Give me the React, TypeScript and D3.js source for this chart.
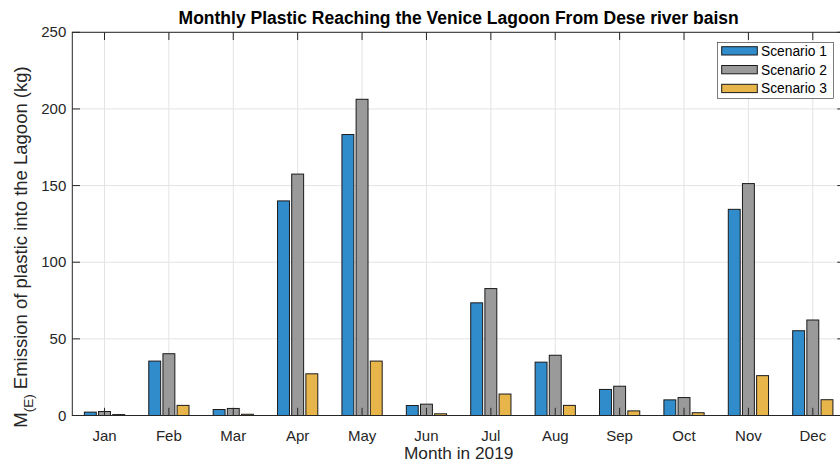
import React from "react";
import * as d3 from "d3";

const months = ["Jan", "Feb", "Mar", "Apr", "May", "Jun", "Jul", "Aug", "Sep", "Oct", "Nov", "Dec"];
const scenario1 = [2.2, 35.5, 3.9, 140, 183.3, 6.5, 73.5, 34.8, 17, 10.2, 134.5, 55.3];
const scenario2 = [2.6, 40.3, 4.6, 157.5, 206.3, 7.4, 82.8, 39.3, 19.1, 11.7, 151.3, 62.3];
const scenario3 = [0.6, 6.6, 0.8, 27.2, 35.5, 1.1, 14, 6.6, 3.0, 1.8, 26, 10.3];
const seriesNames = ["Scenario 1", "Scenario 2", "Scenario 3"];
const seriesColors = ["#318CCC", "#9A9A9A", "#E8B54A"];
const yTicks = [0, 50, 100, 150, 200, 250];

const W = 840;
const H = 463;
const FONT = "'Liberation Sans', Arial, Helvetica, sans-serif";
const AX = "#262626";

export default function App() {
  const series = [scenario1, scenario2, scenario3];
  const x = d3.scaleLinear().domain([0.5, 12.5]).range([72.3, 845]);
  const y = d3.scaleLinear().domain([0, 250]).range([415.5, 32.3]);
  const offsets = [-0.22, 0, 0.22];
  const bw = 0.185;
  const unit = x(1) - x(0);
  const tickLen = 7.7;
  const left = x.range()[0];
  const right = x.range()[1];
  const top = y.range()[1];
  const bottom = y.range()[0];

  return (
    <svg width={W} height={H} style={{ position: "absolute", left: 0, top: 0, background: "#fff" }} fontFamily={FONT}>
      <rect x={0} y={0} width={W} height={H} fill="#fff" />
      {/* grid */}
      <g stroke="#e3e3e3" strokeWidth={1}>
        {months.map((m, i) => (
          <line key={m} x1={x(i + 1)} x2={x(i + 1)} y1={top} y2={bottom} />
        ))}
        {yTicks.map((t) => (
          <line key={t} x1={left} x2={right} y1={y(t)} y2={y(t)} />
        ))}
      </g>
      {/* bars */}
      {series.map((vals, s) => (
        <g key={s}>
          {vals.map((v, i) => (
            <rect
              key={i}
              x={x(i + 1 + offsets[s] - bw / 2)}
              y={y(v)}
              width={bw * unit}
              height={y(0) - y(v)}
              fill={seriesColors[s]}
              stroke="#1a1a1a"
              strokeWidth={1}
            />
          ))}
        </g>
      ))}
      {/* axes box */}
      <g stroke={AX} strokeWidth={1} fill="none">
        <rect x={left} y={top} width={right - left} height={bottom - top} />
        {months.map((m, i) => (
          <g key={m}>
            <line x1={x(i + 1)} x2={x(i + 1)} y1={bottom} y2={bottom - tickLen} />
            <line x1={x(i + 1)} x2={x(i + 1)} y1={top} y2={top + tickLen} />
          </g>
        ))}
        {yTicks.map((t) => (
          <g key={t}>
            <line x1={left} x2={left + tickLen} y1={y(t)} y2={y(t)} />
            <line x1={right} x2={right - tickLen} y1={y(t)} y2={y(t)} />
          </g>
        ))}
      </g>
      {/* tick labels */}
      <g fill={AX} fontSize={15}>
        {months.map((m, i) => (
          <text key={m} x={x(i + 1)} y={441} textAnchor="middle">{m}</text>
        ))}
        {yTicks.map((t) => (
          <text key={t} x={left - 6} y={y(t) + 5} textAnchor="end">{t}</text>
        ))}
      </g>
      {/* labels */}
      <text x={(left + right) / 2} y={459} textAnchor="middle" fontSize={17.3} fill={AX}>Month in 2019</text>
      <text transform={`translate(27, 247) rotate(-90)`} textAnchor="middle" fontSize={18.5} fill={AX}>
        M<tspan fontSize={13.5} dy={6}>(E)</tspan><tspan dy={-6}> Emission of plastic into the Lagoon (kg)</tspan>
      </text>
      <text x={(left + right) / 2} y={24} textAnchor="middle" fontSize={17.5} fontWeight="bold" fill="#000">
        Monthly Plastic Reaching the Venice Lagoon From Dese river baisn
      </text>
      {/* legend */}
      <g>
        <rect x={717.5} y={42.5} width={116} height={56} fill="#fff" stroke={AX} strokeWidth={0.6} />
        {seriesNames.map((n, i) => (
          <g key={n}>
            <rect x={721.7} y={46.7 + i * 18.8} width={35.6} height={8.3} fill={seriesColors[i]} stroke="#1a1a1a" strokeWidth={1} />
            <text x={761} y={46.7 + i * 18.8 + 9} fontSize={13.8} fill="#000">{n}</text>
          </g>
        ))}
      </g>
    </svg>
  );
}
